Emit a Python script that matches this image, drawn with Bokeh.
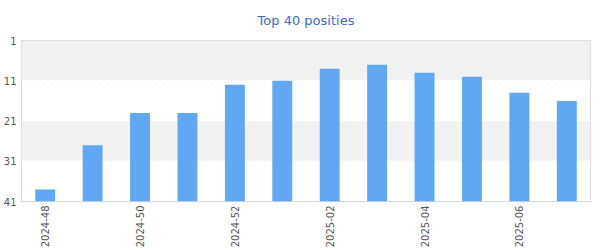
from bokeh.plotting import figure
from bokeh.models import Range1d, FixedTicker
from bokeh.embed import file_html
from bokeh.resources import INLINE
import math

weeks = ["2024-48", "2024-49", "2024-50", "2024-51", "2024-52", "2025-01",
         "2025-02", "2025-03", "2025-04", "2025-05", "2025-06", "2025-07"]
positions = [38, 27, 19, 19, 12, 11, 8, 7, 9, 10, 14, 16]
y_ticks = [1, 11, 21, 31, 41]
shown_weeks = weeks[::2]

FONT = "DejaVu Sans"
n = len(weeks)

p = figure(width=600, height=250, output_backend="svg", toolbar_location=None,
           x_range=Range1d(0, n), y_range=Range1d(41, 1),
           min_border_left=0, min_border_right=10, min_border_top=40,
           min_border_bottom=0, title="Top 40 posities")
p.title.align = "center"
p.title.vertical_align = "top"
p.title.text_font = FONT
p.title.text_font_size = "13px"
p.title.text_font_style = "normal"
p.title.text_color = "#3a6cc6"
p.title.standoff = 22

p.xgrid.visible = False
p.ygrid.visible = False
p.outline_line_color = "#d9d9d9"
p.outline_line_width = 1
p.background_fill_color = "white"
p.border_fill_color = "white"

# alternating bands (1-11 and 21-31 shaded)
band_top = [y_ticks[0], y_ticks[2]]
band_bottom = [y_ticks[1], y_ticks[3]]
p.quad(left=0, right=n, top=band_top, bottom=band_bottom,
       fill_color="#f2f2f2", line_color=None)
# dashed white lines at lower edge of shaded bands
p.segment(x0=0, x1=n, y0=band_bottom, y1=band_bottom, line_color="white",
          line_width=1.5, line_dash="4 3")

xs = [i + 0.5 for i in range(n)]
p.vbar(x=xs, top=positions, bottom=41, width=0.42, fill_color="#60a8f4",
       line_color=None)

# y axis
p.yaxis.ticker = FixedTicker(ticks=y_ticks)
p.yaxis.major_label_overrides = {t: str(t) for t in y_ticks}
p.yaxis.axis_line_color = None
p.yaxis.major_tick_line_color = None
p.yaxis.minor_tick_line_color = None
p.yaxis.major_tick_out = 0
p.yaxis.major_tick_in = 0
p.yaxis.minor_tick_out = 0
p.yaxis.minor_tick_in = 0
p.yaxis.major_label_standoff = 5
p.yaxis.major_label_text_font = FONT
p.yaxis.major_label_text_font_size = "10px"
p.yaxis.major_label_text_color = "#555555"

# x axis (every other week labelled)
tick_pos = [i + 0.5 for i, w in enumerate(weeks) if w in shown_weeks]
p.xaxis.ticker = FixedTicker(ticks=tick_pos)
p.xaxis.major_label_overrides = {i + 0.5: w for i, w in enumerate(weeks) if w in shown_weeks}
p.xaxis.major_label_orientation = math.pi / 2
p.xaxis.axis_line_color = None
p.xaxis.major_tick_line_color = None
p.xaxis.minor_tick_line_color = None
p.xaxis.major_tick_out = 0
p.xaxis.major_tick_in = 0
p.xaxis.minor_tick_out = 0
p.xaxis.minor_tick_in = 0
p.xaxis.major_label_standoff = 4
p.xaxis.major_label_text_font = FONT
p.xaxis.major_label_text_font_size = "10px"
p.xaxis.major_label_text_color = "#555555"

open("out.html", "w").write(file_html(p, INLINE))
